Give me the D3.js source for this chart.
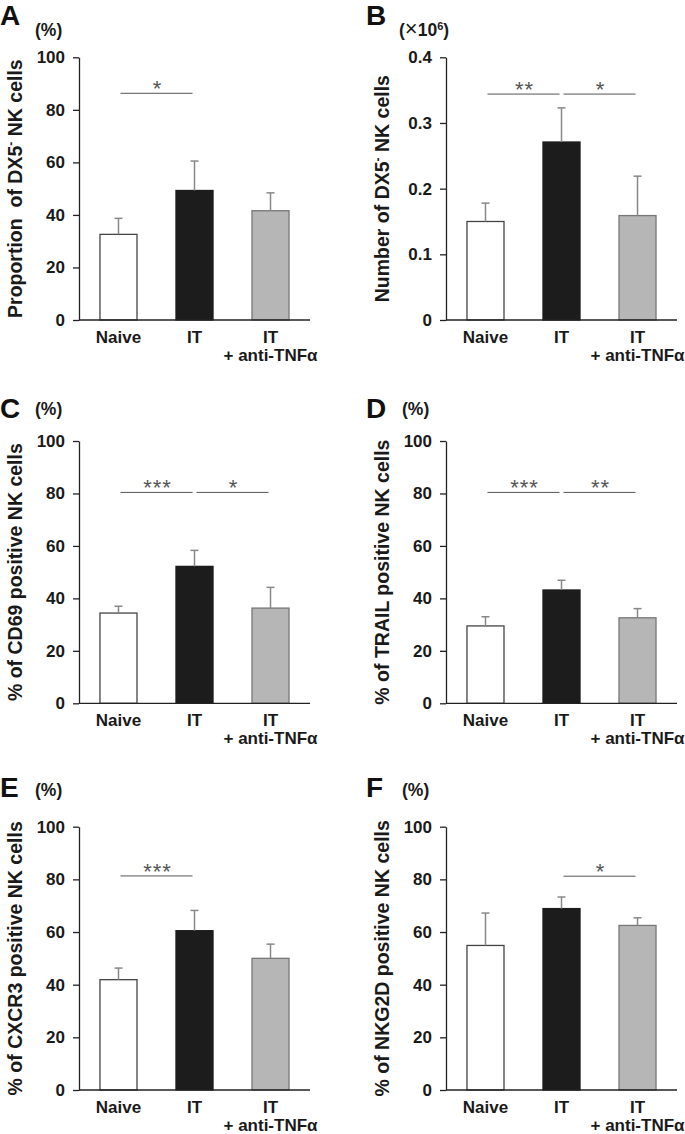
<!DOCTYPE html>
<html>
<head>
<meta charset="utf-8">
<script src="https://cdn.jsdelivr.net/npm/d3@7"></script>
<style>
  body { margin: 0; background: #fff; }
  text { font-family: "Liberation Sans", Arial, sans-serif; }
</style>
</head>
<body>
<div id="chart"></div>
<script>
// groups on the x axis (multi-line labels)
const groups = [["Naive"], ["IT"], ["IT", "+ anti-TNFα"]];
const fills = ["#ffffff", "#1c1c1c", "#b6b6b6"];
const strokes = ["#444444", "#1c1c1c", "#777777"];

// bar means and SD
const meanA = [32.6, 49.3, 41.6], sdA = [6.1, 11.2, 6.8];
const meanB = [0.150, 0.271, 0.159], sdB = [0.028, 0.052, 0.060];
const meanC = [34.4, 52.2, 36.3], sdC = [2.6, 6.1, 7.9];
const meanD = [29.5, 43.2, 32.6], sdD = [3.5, 3.7, 3.5];
const meanE = [41.9, 60.5, 50.0], sdE = [4.4, 7.7, 5.4];
const meanF = [54.9, 68.9, 62.5], sdF = [12.3, 4.4, 2.9];

// significance brackets: [from, to, level, stars]
const sigA = [[0, 1, 86.3, "*"]];
const sigB = [[0, 1, 0.344, "**"], [1, 2, 0.344, "*"]];
const sigC = [[0, 1, 80.4, "***"], [1, 2, 80.4, "*"]];
const sigD = [[0, 1, 80.4, "***"], [1, 2, 80.4, "**"]];
const sigE = [[0, 1, 81.3, "***"]];
const sigF = [[1, 2, 81.2, "*"]];

const pctTicks = [0, 20, 40, 60, 80, 100];
const numTicks = [0, 0.1, 0.2, 0.3, 0.4];

const panels = [
  {letter: "A", col: 0, row: 0, mean: meanA, sd: sdA, max: 100, ticks: pctTicks, sig: sigA,
   title: ["Proportion  of DX5", "-", " NK cells"]},
  {letter: "B", col: 1, row: 0, mean: meanB, sd: sdB, max: 0.4, ticks: numTicks, sig: sigB,
   title: ["Number of DX5", "-", " NK cells"]},
  {letter: "C", col: 0, row: 1, mean: meanC, sd: sdC, max: 100, ticks: pctTicks, sig: sigC,
   title: ["% of CD69 positive NK cells"]},
  {letter: "D", col: 1, row: 1, mean: meanD, sd: sdD, max: 100, ticks: pctTicks, sig: sigD,
   title: ["% of TRAIL positive NK cells"]},
  {letter: "E", col: 0, row: 2, mean: meanE, sd: sdE, max: 100, ticks: pctTicks, sig: sigE,
   title: ["% of CXCR3 positive NK cells"]},
  {letter: "F", col: 1, row: 2, mean: meanF, sd: sdF, max: 100, ticks: pctTicks, sig: sigF,
   title: ["% of NKG2D positive NK cells"]}
];

// layout
const W = 685, H = 1134;
const colX = [79, 446];
const rowTop = [57.3, 441, 826.7];
const rowBottom = [320, 703.3, 1090];
const letterY = [25, 418, 797];
const unitY = [36, 415, 796];
const plotW = 231;

const svg = d3.select("#chart").append("svg")
  .attr("width", W)
  .attr("height", H);

const x = d3.scaleBand()
  .domain(d3.range(groups.length))
  .range([0, plotW])
  .paddingInner(0.513)
  .paddingOuter(0.276);

panels.forEach(function(p) {
  const ax = colX[p.col], top = rowTop[p.row], bot = rowBottom[p.row];
  const y = d3.scaleLinear().domain([0, p.max]).range([bot, top]);
  const g = svg.append("g").attr("transform", `translate(${ax},0)`);

  // panel letter
  svg.append("text")
    .attr("x", p.col === 0 ? 0 : 366)
    .attr("y", letterY[p.row])
    .style("font-size", "28px").style("font-weight", "bold")
    .attr("fill", "#111")
    .text(p.letter);

  // unit label
  const unit = svg.append("text")
    .attr("x", p.max === 100 ? ax - 44 : ax - 47)
    .attr("y", unitY[p.row])
    .style("font-size", "17.5px").style("font-weight", "bold")
    .attr("fill", "#1a1a1a");
  if (p.max === 100) {
    unit.text("(%)");
  } else {
    unit.append("tspan").text("(");
    unit.append("tspan").style("font-weight", "normal").style("font-size", "22px").text("×");
    unit.append("tspan").text("10");
    unit.append("tspan").attr("baseline-shift", "super").style("font-size", "11px").text("6");
    unit.append("tspan").text(")");
  }

  // y axis
  const yAxis = d3.axisLeft(y)
    .tickValues(p.ticks)
    .tickSizeOuter(0)
    .tickSizeInner(6)
    .tickPadding(8)
    .tickFormat(d => d === 0 ? "0" : (p.max === 100 ? d : d.toFixed(1)));
  const ya = g.append("g").call(yAxis);
  ya.select(".domain").attr("stroke", "#222").attr("stroke-width", 1.3);
  ya.selectAll(".tick line").attr("stroke", "#222").attr("stroke-width", 1.3);
  ya.selectAll(".tick text")
    .style("font-size", "17px").style("font-weight", "bold")
    .attr("fill", "#1a1a1a");

  // y title
  const t = svg.append("text")
    .attr("transform", `translate(${ax - 57},${(top + bot) / 2}) rotate(-90)`)
    .attr("text-anchor", "middle")
    .style("font-size", "19.5px").style("font-weight", "bold")
    .style("white-space", "pre")
    .attr("fill", "#1a1a1a");
  t.append("tspan").text(p.title[0]);
  if (p.title.length > 1) {
    t.append("tspan").attr("baseline-shift", "super").style("font-size", "12px").text(p.title[1]);
    t.append("tspan").text(p.title[2]);
  }

  // bars
  g.selectAll(".bar")
    .data(p.mean)
    .join("rect")
    .attr("class", "bar")
    .attr("x", (d, i) => x(i))
    .attr("width", x.bandwidth())
    .attr("y", d => y(d))
    .attr("height", d => y(0) - y(d))
    .attr("fill", (d, i) => fills[i])
    .attr("stroke", (d, i) => strokes[i])
    .attr("stroke-width", 1.3);

  // error bars (upper only)
  const eb = g.selectAll(".err")
    .data(p.mean)
    .join("g")
    .attr("class", "err");
  eb.append("line")
    .attr("x1", (d, i) => x(i) + x.bandwidth() / 2)
    .attr("x2", (d, i) => x(i) + x.bandwidth() / 2)
    .attr("y1", d => y(d))
    .attr("y2", (d, i) => y(d + p.sd[i]))
    .attr("stroke", "#888").attr("stroke-width", 1.5);
  eb.append("line")
    .attr("x1", (d, i) => x(i) + x.bandwidth() / 2 - 4)
    .attr("x2", (d, i) => x(i) + x.bandwidth() / 2 + 4)
    .attr("y1", (d, i) => y(d + p.sd[i]))
    .attr("y2", (d, i) => y(d + p.sd[i]))
    .attr("stroke", "#888").attr("stroke-width", 1.5);

  // x axis baseline
  g.append("line")
    .attr("x1", 0).attr("x2", plotW)
    .attr("y1", y(0)).attr("y2", y(0))
    .attr("stroke", "#222").attr("stroke-width", 1.3);

  // x labels
  groups.forEach(function(lines, i) {
    lines.forEach(function(s, k) {
      g.append("text")
        .attr("x", x(i) + x.bandwidth() / 2)
        .attr("y", y(0) + 23 + k * 17.5)
        .attr("text-anchor", "middle")
        .style("font-size", "17px").style("font-weight", "bold")
        .attr("fill", "#1a1a1a")
        .text(s);
    });
  });

  // significance
  p.sig.forEach(function(s) {
    const x1 = x(s[0]) + x.bandwidth() / 2 + 2;
    const x2 = x(s[1]) + x.bandwidth() / 2 - 2;
    g.append("line")
      .attr("x1", x1).attr("x2", x2)
      .attr("y1", y(s[2])).attr("y2", y(s[2]))
      .attr("stroke", "#555").attr("stroke-width", 1);
    g.append("text")
      .attr("x", (x1 + x2) / 2 + 1)
      .attr("y", y(s[2]) + 3)
      .attr("text-anchor", "middle")
      .style("font-size", "22px")
      .style("letter-spacing", "1px")
      .attr("fill", "#555")
      .text(s[3]);
  });
});
</script>
</body>
</html>
